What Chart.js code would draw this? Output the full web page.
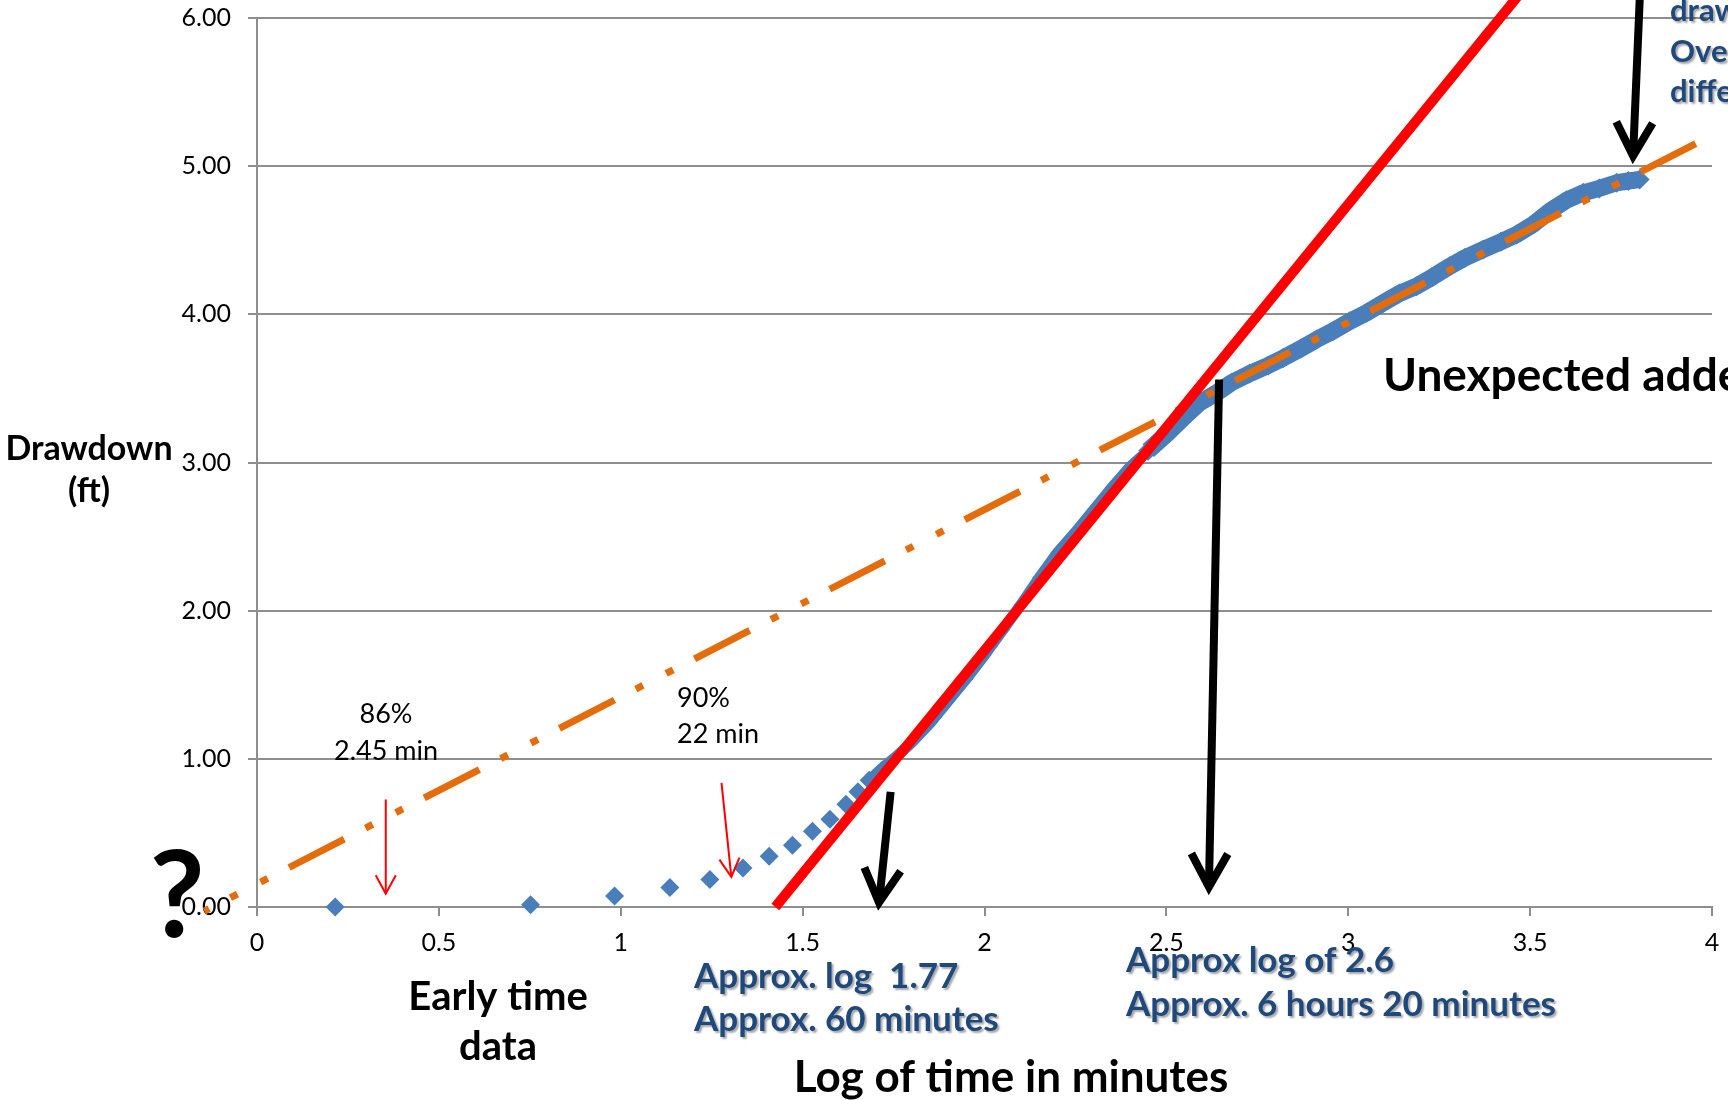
<!DOCTYPE html>
<html>
<head>
<meta charset="utf-8">
<script src="https://cdn.jsdelivr.net/npm/chart.js@4.4.1/dist/chart.umd.min.js"></script>
<style>
html, body { margin: 0; padding: 0; background: #fff; }
</style>
</head>
<body>
<canvas id="chart" width="1728" height="1100"></canvas>
<script>
// early time readings: log10(t, min) vs drawdown (ft)
const earlyLogT = [0.215, 0.752, 0.983, 1.135, 1.245, 1.336, 1.408, 1.472, 1.527, 1.575, 1.619, 1.652, 1.683];
const earlyDrawdown = [0.00, 0.015, 0.074, 0.131, 0.185, 0.264, 0.343, 0.417, 0.511, 0.593, 0.694, 0.777, 0.856];

// dense record, steep part
const midLogT = [1.683, 1.72, 1.76, 1.80, 1.85, 1.90, 1.95, 2.00, 2.05, 2.10, 2.15, 2.20, 2.25, 2.30, 2.35, 2.40, 2.45];
const midDrawdown = [0.856, 0.94, 1.02, 1.11, 1.24, 1.39, 1.54, 1.70, 1.87, 2.04, 2.22, 2.39, 2.53, 2.68, 2.83, 2.97, 3.08];

// dense record, late part
const lateLogT = [2.45, 2.50, 2.546, 2.59, 2.638, 2.68, 2.729, 2.78, 2.821, 2.87, 2.913, 2.96, 3.004, 3.05, 3.096, 3.14,
	3.188, 3.23, 3.279, 3.32, 3.371, 3.42, 3.463, 3.51, 3.554, 3.60, 3.646, 3.69, 3.738, 3.77, 3.801];
const lateDrawdown = [3.08, 3.19, 3.30, 3.40, 3.47, 3.54, 3.60, 3.655, 3.705, 3.77, 3.83, 3.89, 3.953, 4.01, 4.077, 4.14,
	4.19, 4.25, 4.324, 4.38, 4.437, 4.49, 4.539, 4.61, 4.696, 4.77, 4.82, 4.85, 4.888, 4.90, 4.91];

// straight line through the steep part
const fitLogT = [1.425, 3.517];
const fitDrawdown = [0.0, 6.3];

// excel trendline (dash dot dot)
const trendLogT = [-0.145, 3.961];
const trendDrawdown = [-0.028, 5.16];

const yTickLabels = ['0.00', '1.00', '2.00', '3.00', '4.00', '5.00', '6.00'];
const xTickLabels = ['0', '0.5', '1', '1.5', '2', '2.5', '3', '3.5', '4'];

const zip = (xs, ys) => xs.map((x, i) => ({ x: x, y: ys[i] }));

const BLUE = 'rgb(74, 126, 187)';
const ORANGE = 'rgb(228, 108, 10)';
const GRID = '#8e8e8e';
const TEXT_BLUE = '#1F497D';

// arrows in data units
const arrows = [
	{ from: [1.742, 0.777], to: [1.710, 0.03], color: '#000', width: 8, head: 38, spread: 0.5 },
	{ from: [2.645, 3.56], to: [2.617, 0.135], color: '#000', width: 8, head: 38, spread: 0.5 },
	{ from: [3.806, 6.4], to: [3.783, 5.07], color: '#000', width: 8, head: 38, spread: 0.5 },
	{ from: [0.354, 0.726], to: [0.354, 0.09], color: '#f00', width: 2, head: 21, spread: 0.5 },
	{ from: [1.277, 0.838], to: [1.304, 0.203], color: '#f00', width: 2, head: 21, spread: 0.5 }
];

// free text, pixel positions (baseline)
const notes = [
	{ text: '86%', x: 386, y: 723, font: '27px Lato', color: '#000', align: 'center' },
	{ text: '2.45 min', x: 386, y: 760, font: '27px Lato', color: '#000', align: 'center' },
	{ text: '90%', x: 677, y: 707, font: '27px Lato', color: '#000', align: 'left' },
	{ text: '22 min', x: 677, y: 743, font: '27px Lato', color: '#000', align: 'left' },
	{ text: 'Drawdown', x: 89, y: 460, font: 'bold 34px Lato', color: '#000', align: 'center' },
	{ text: '(ft)', x: 89, y: 502, font: 'bold 34px Lato', color: '#000', align: 'center' },
	{ text: 'Early time', x: 498, y: 1010, font: 'bold 40px Lato', color: '#000', align: 'center' },
	{ text: 'data', x: 498, y: 1060, font: 'bold 40px Lato', color: '#000', align: 'center' },
	{ text: 'Log of time in minutes', x: 1011, y: 1092, font: 'bold 44px Lato', color: '#000', align: 'center' },
	{ text: 'Unexpected added', x: 1383, y: 391, font: 'bold 46px Lato', color: '#000', align: 'left' },
	{ text: '?', x: 177, y: 937, font: 'bold 120px Lato', color: '#000', align: 'center' },
	{ text: 'Approx. log  1.77', x: 694, y: 988, font: 'bold 35px Lato', color: TEXT_BLUE, align: 'left', shadow: true },
	{ text: 'Approx. 60 minutes', x: 694, y: 1031, font: 'bold 35px Lato', color: TEXT_BLUE, align: 'left', shadow: true },
	{ text: 'Approx log of 2.6', x: 1126, y: 972, font: 'bold 35px Lato', color: TEXT_BLUE, align: 'left', shadow: true },
	{ text: 'Approx. 6 hours 20 minutes', x: 1126, y: 1016, font: 'bold 35px Lato', color: TEXT_BLUE, align: 'left', shadow: true },
	{ text: 'drawdown', x: 1670, y: 21, font: 'bold 31px Lato', color: TEXT_BLUE, align: 'left', shadow: true },
	{ text: 'Overall', x: 1670, y: 62, font: 'bold 31px Lato', color: TEXT_BLUE, align: 'left', shadow: true },
	{ text: 'difference', x: 1670, y: 102, font: 'bold 31px Lato', color: TEXT_BLUE, align: 'left', shadow: true }
];

function drawArrow(ctx, x1, y1, x2, y2, a) {
	const ang = Math.atan2(y2 - y1, x2 - x1);
	ctx.strokeStyle = a.color;
	ctx.lineWidth = a.width;
	ctx.lineCap = 'butt';
	ctx.lineJoin = 'miter';
	ctx.beginPath();
	ctx.moveTo(x1, y1);
	ctx.lineTo(x2, y2);
	ctx.stroke();
	ctx.beginPath();
	ctx.moveTo(x2 - a.head * Math.cos(ang - a.spread), y2 - a.head * Math.sin(ang - a.spread));
	ctx.lineTo(x2, y2);
	ctx.lineTo(x2 - a.head * Math.cos(ang + a.spread), y2 - a.head * Math.sin(ang + a.spread));
	ctx.stroke();
}

const annotations = {
	id: 'annotations',
	afterDraw(chart) {
		const ctx = chart.ctx;
		const sx = chart.scales.x, sy = chart.scales.y;
		ctx.save();
		arrows.forEach(a => {
			drawArrow(ctx,
				sx.getPixelForValue(a.from[0]), sy.getPixelForValue(a.from[1]),
				sx.getPixelForValue(a.to[0]), sy.getPixelForValue(a.to[1]), a);
		});
		notes.forEach(n => {
			ctx.save();
			ctx.font = n.font;
			ctx.fillStyle = n.color;
			ctx.textAlign = n.align;
			ctx.textBaseline = 'alphabetic';
			if (n.shadow) {
				ctx.shadowColor = 'rgba(0, 0, 0, 0.35)';
				ctx.shadowOffsetX = 2;
				ctx.shadowOffsetY = 2;
				ctx.shadowBlur = 2;
			}
			ctx.fillText(n.text, n.x, n.y);
			ctx.restore();
		});
		ctx.restore();
	}
};

const tickFont = { family: 'Lato', size: 25 };

new Chart(document.getElementById('chart').getContext('2d'), {
	type: 'scatter',
	data: {
		datasets: [
			{
				label: 'Fit',
				data: zip(fitLogT, fitDrawdown),
				showLine: true,
				borderColor: '#ff0000',
				borderWidth: 10,
				borderCapStyle: 'butt',
				pointRadius: 0,
				clip: false
			},
			{
				label: 'Trend',
				data: zip(trendLogT, trendDrawdown),
				showLine: true,
				borderColor: ORANGE,
				borderWidth: 7,
				borderCapStyle: 'butt',
				borderDash: [62, 24, 8, 26, 8, 24],
				borderDashOffset: 56.6,
				pointRadius: 0,
				clip: false
			},
			{
				label: 'Drawdown late',
				data: zip(lateLogT, lateDrawdown),
				showLine: true,
				borderColor: BLUE,
				borderWidth: 17,
				borderJoinStyle: 'round',
				pointStyle: 'rectRot',
				pointRadius: 10,
				pointBackgroundColor: BLUE,
				pointBorderWidth: 0
			},
			{
				label: 'Drawdown mid',
				data: zip(midLogT, midDrawdown),
				showLine: true,
				borderColor: BLUE,
				borderWidth: 11,
				borderJoinStyle: 'round',
				pointStyle: 'rectRot',
				pointRadius: 7,
				pointBackgroundColor: BLUE,
				pointBorderWidth: 0
			},
			{
				label: 'Drawdown early',
				data: zip(earlyLogT, earlyDrawdown),
				showLine: false,
				pointStyle: 'rectRot',
				pointRadius: 9.5,
				pointBackgroundColor: BLUE,
				pointBorderWidth: 0,
				clip: false
			}
		]
	},
	options: {
		responsive: false,
		animation: false,
		devicePixelRatio: 1,
		layout: { padding: { top: 18, right: 16, left: 0, bottom: 0 } },
		plugins: {
			legend: { display: false },
			tooltip: { enabled: false }
		},
		scales: {
			x: {
				type: 'linear',
				min: 0,
				max: 4,
				ticks: {
					stepSize: 0.5,
					font: tickFont,
					color: '#000',
					padding: 12,
					maxRotation: 0,
					callback: (v, i) => xTickLabels[i]
				},
				grid: { drawOnChartArea: false, drawTicks: true, tickLength: 9, color: GRID, lineWidth: 2 },
				border: { color: GRID, width: 2 },
				afterFit(scale) {
					scale.height = 193;
					scale.paddingLeft = 0;
					scale.paddingRight = 0;
				}
			},
			y: {
				min: 0,
				max: 6,
				ticks: {
					stepSize: 1,
					font: tickFont,
					color: '#000',
					padding: 17,
					callback: (v, i) => yTickLabels[i]
				},
				grid: { color: GRID, lineWidth: 2, tickLength: 9 },
				border: { color: GRID, width: 2 },
				afterFit(scale) {
					scale.width = 257;
					scale.paddingTop = 0;
					scale.paddingBottom = 0;
				}
			}
		}
	},
	plugins: [annotations]
});
</script>
</body>
</html>
